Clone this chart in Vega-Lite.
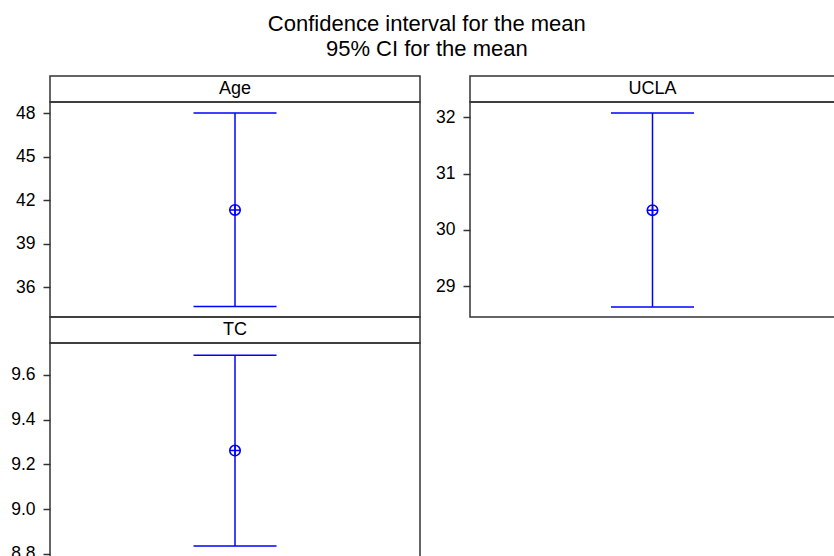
{
  "$schema": "https://vega.github.io/schema/vega-lite/v6.json",
  "padding": {"left": 9, "top": 13, "right": 0, "bottom": 0},
  "background": "white",
  "title": {
    "text": ["Confidence interval for the mean", "95% CI for the mean"],
    "fontSize": 22,
    "font": "Liberation Sans",
    "fontWeight": "normal",
    "color": "black",
    "lineHeight": 24.5,
    "anchor": "middle",
    "dx": 4,
    "offset": 14.5
  },
  "datasets": {
    "ci": [
      {"var": "Age", "lower": 34.69, "mean": 41.33, "upper": 48.0},
      {"var": "UCLA", "lower": 28.63, "mean": 30.35, "upper": 32.08},
      {"var": "TC", "lower": 8.835, "mean": 9.262, "upper": 9.688}
    ]
  },
  "data": {"name": "ci"},
  "columns": 2,
  "spacing": {"row": 0, "column": 50},
  "bounds": "flush",
  "concat": [
    {
      "width": 370, "height": 26,
      "transform": [{"filter": "datum.var === 'Age'"}],
      "layer": [
        {"mark": {"type": "rect", "fill": null, "fillOpacity": 0, "stroke": "#333333", "strokeWidth": 1.5}, "encoding": {}},
        {"mark": {"type": "text", "fontSize": 18, "font": "Liberation Sans", "color": "black", "dy": 0},
         "encoding": {"text": {"field": "var"}}}
      ]
    },
    {
      "width": 365, "height": 26,
      "transform": [{"filter": "datum.var === 'UCLA'"}],
      "layer": [
        {"mark": {"type": "rect", "fill": null, "fillOpacity": 0, "stroke": "#333333", "strokeWidth": 1.5}, "encoding": {}},
        {"mark": {"type": "text", "fontSize": 18, "font": "Liberation Sans", "color": "black", "dy": 0},
         "encoding": {"text": {"field": "var"}}}
      ]
    },
    {
      "width": 370, "height": 215,
      "transform": [{"filter": "datum.var === 'Age'"}],
      "encoding": {"x": {"field": "var", "type": "nominal", "axis": null}},
      "layer": [
        {
          "mark": {"type": "rule", "color": "blue", "strokeWidth": 1.5},
          "encoding": {
            "y": {"field": "lower", "type": "quantitative", "title": null,
                  "scale": {"domain": [33.96, 48.76], "nice": false, "zero": false},
                  "axis": {"values": [36, 39, 42, 45, 48], "format": "d"}},
            "y2": {"field": "upper"}
          }
        },
        {
          "mark": {"type": "tick", "color": "blue", "thickness": 1.5, "size": 83, "opacity": 1},
          "encoding": {"y": {"field": "lower", "type": "quantitative", "title": null}}
        },
        {
          "mark": {"type": "tick", "color": "blue", "thickness": 1.5, "size": 83, "opacity": 1},
          "encoding": {"y": {"field": "upper", "type": "quantitative", "title": null}}
        },
        {
          "mark": {"type": "point", "shape": "M-1,0A1,1,0,1,1,1,0A1,1,0,1,1,-1,0M-1,0L1,0M0,-1L0,1", "size": 110, "filled": false, "color": "blue", "strokeWidth": 1.6, "opacity": 1},
          "encoding": {"y": {"field": "mean", "type": "quantitative", "title": null}}
        }
      ]
    },
    {
      "width": 365, "height": 215,
      "transform": [{"filter": "datum.var === 'UCLA'"}],
      "encoding": {"x": {"field": "var", "type": "nominal", "axis": null}},
      "layer": [
        {
          "mark": {"type": "rule", "color": "blue", "strokeWidth": 1.5},
          "encoding": {
            "y": {"field": "lower", "type": "quantitative", "title": null,
                  "scale": {"domain": [28.45, 32.275], "nice": false, "zero": false},
                  "axis": {"values": [29, 30, 31, 32], "format": "d"}},
            "y2": {"field": "upper"}
          }
        },
        {
          "mark": {"type": "tick", "color": "blue", "thickness": 1.5, "size": 83, "opacity": 1},
          "encoding": {"y": {"field": "lower", "type": "quantitative", "title": null}}
        },
        {
          "mark": {"type": "tick", "color": "blue", "thickness": 1.5, "size": 83, "opacity": 1},
          "encoding": {"y": {"field": "upper", "type": "quantitative", "title": null}}
        },
        {
          "mark": {"type": "point", "shape": "M-1,0A1,1,0,1,1,1,0A1,1,0,1,1,-1,0M-1,0L1,0M0,-1L0,1", "size": 110, "filled": false, "color": "blue", "strokeWidth": 1.6, "opacity": 1},
          "encoding": {"y": {"field": "mean", "type": "quantitative", "title": null}}
        }
      ]
    },
    {
      "width": 370, "height": 26,
      "transform": [{"filter": "datum.var === 'TC'"}],
      "layer": [
        {"mark": {"type": "rect", "fill": null, "fillOpacity": 0, "stroke": "#333333", "strokeWidth": 1.5}, "encoding": {}},
        {"mark": {"type": "text", "fontSize": 18, "font": "Liberation Sans", "color": "black", "dy": 0},
         "encoding": {"text": {"field": "var"}}}
      ]
    },
    {
      "width": 365, "height": 26,
      "view": {"stroke": null},
      "transform": [{"filter": "datum.var === 'none'"}],
      "mark": {"type": "text"},
      "encoding": {"text": {"field": "var"}}
    },
    {
      "width": 370, "height": 216,
      "transform": [{"filter": "datum.var === 'TC'"}],
      "encoding": {"x": {"field": "var", "type": "nominal", "axis": null}},
      "layer": [
        {
          "mark": {"type": "rule", "color": "blue", "strokeWidth": 1.5},
          "encoding": {
            "y": {"field": "lower", "type": "quantitative", "title": null,
                  "scale": {"domain": [8.777, 9.743], "nice": false, "zero": false},
                  "axis": {"values": [8.8, 9.0, 9.2, 9.4, 9.6], "format": ".1f"}},
            "y2": {"field": "upper"}
          }
        },
        {
          "mark": {"type": "tick", "color": "blue", "thickness": 1.5, "size": 83, "opacity": 1},
          "encoding": {"y": {"field": "lower", "type": "quantitative", "title": null}}
        },
        {
          "mark": {"type": "tick", "color": "blue", "thickness": 1.5, "size": 83, "opacity": 1},
          "encoding": {"y": {"field": "upper", "type": "quantitative", "title": null}}
        },
        {
          "mark": {"type": "point", "shape": "M-1,0A1,1,0,1,1,1,0A1,1,0,1,1,-1,0M-1,0L1,0M0,-1L0,1", "size": 110, "filled": false, "color": "blue", "strokeWidth": 1.6, "opacity": 1},
          "encoding": {"y": {"field": "mean", "type": "quantitative", "title": null}}
        }
      ]
    }
  ],
  "config": {
    "font": "Liberation Sans",
    "view": {"stroke": "#333333", "strokeWidth": 1.5},
    "axis": {
      "labelFont": "Liberation Sans",
      "labelFontSize": 17.5,
      "labelColor": "black",
      "tickColor": "#333333",
      "tickSize": 7,
      "tickWidth": 1.5,
      "labelPadding": 8,
      "grid": false,
      "domain": false
    }
  }
}
